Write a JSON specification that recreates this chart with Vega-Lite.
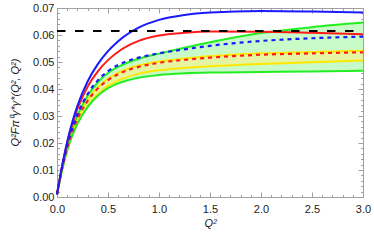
{
  "$schema": "https://vega.github.io/schema/vega-lite/v6.json",
  "autosize": {"type": "none"},
  "width": 306,
  "height": 189,
  "padding": {"left": 57, "top": 8, "right": 11, "bottom": 46},
  "background": "white",
  "config": {
    "view": {"stroke": "#a0a0a0", "strokeWidth": 1},
    "axis": {"labelFont": "Liberation Sans", "labelFontSize": 11, "labelColor": "#222222", "labelFlush": false, "titleFont": "Liberation Sans", "titleFontSize": 11, "titleFontWeight": "normal", "titleColor": "#222222", "tickColor": "#a0a0a0", "domain": false, "grid": false}
  },
  "datasets": {
    "curves": [
      {"q": 0, "blue": 0.001, "red": 0.001, "bdot": 0.001, "rdot": 0.001, "ghi": 0.001, "glo": 0.001, "yhi": 0.001, "ylo": 0.001},
      {"q": 0.05, "blue": 0.0115, "red": 0.0113, "bdot": 0.011, "rdot": 0.0107, "ghi": 0.0109, "glo": 0.010, "yhi": 0.0108, "ylo": 0.010},
      {"q": 0.1, "blue": 0.0205, "red": 0.020, "bdot": 0.0192, "rdot": 0.0184, "ghi": 0.019, "glo": 0.0172, "yhi": 0.0186, "ylo": 0.0173},
      {"q": 0.15, "blue": 0.0278, "red": 0.027, "bdot": 0.0256, "rdot": 0.0243, "ghi": 0.0253, "glo": 0.0228, "yhi": 0.0246, "ylo": 0.0229},
      {"q": 0.2, "blue": 0.0338, "red": 0.0326, "bdot": 0.0306, "rdot": 0.0289, "ghi": 0.0302, "glo": 0.0271, "yhi": 0.0292, "ylo": 0.0273},
      {"q": 0.3, "blue": 0.0428, "red": 0.0408, "bdot": 0.0381, "rdot": 0.0356, "ghi": 0.0375, "glo": 0.0333, "yhi": 0.036, "ylo": 0.0337},
      {"q": 0.4, "blue": 0.0492, "red": 0.0465, "bdot": 0.0432, "rdot": 0.0402, "ghi": 0.0425, "glo": 0.0375, "yhi": 0.0407, "ylo": 0.0381},
      {"q": 0.5, "blue": 0.054, "red": 0.0507, "bdot": 0.0466, "rdot": 0.0433, "ghi": 0.0459, "glo": 0.0403, "yhi": 0.0438, "ylo": 0.0411},
      {"q": 0.6, "blue": 0.0577, "red": 0.0538, "bdot": 0.0489, "rdot": 0.0455, "ghi": 0.0482, "glo": 0.0421, "yhi": 0.046, "ylo": 0.0431},
      {"q": 0.8, "blue": 0.0627, "red": 0.0578, "bdot": 0.0516, "rdot": 0.0482, "ghi": 0.0512, "glo": 0.0442, "yhi": 0.0487, "ylo": 0.0456},
      {"q": 1.0, "blue": 0.0656, "red": 0.0598, "bdot": 0.0532, "rdot": 0.0497, "ghi": 0.0531, "glo": 0.0452, "yhi": 0.0502, "ylo": 0.0469},
      {"q": 1.25, "blue": 0.0674, "red": 0.0608, "bdot": 0.0547, "rdot": 0.0508, "ghi": 0.0553, "glo": 0.0458, "yhi": 0.0513, "ylo": 0.0478},
      {"q": 1.5, "blue": 0.0683, "red": 0.0613, "bdot": 0.056, "rdot": 0.0516, "ghi": 0.0573, "glo": 0.0461, "yhi": 0.0521, "ylo": 0.0484},
      {"q": 2.0, "blue": 0.0689, "red": 0.0612, "bdot": 0.0578, "rdot": 0.0527, "ghi": 0.0607, "glo": 0.0463, "yhi": 0.0532, "ylo": 0.0493},
      {"q": 2.5, "blue": 0.0687, "red": 0.0608, "bdot": 0.0588, "rdot": 0.0532, "ghi": 0.0629, "glo": 0.0465, "yhi": 0.0537, "ylo": 0.0499},
      {"q": 3.0, "blue": 0.0683, "red": 0.0603, "bdot": 0.0594, "rdot": 0.0536, "ghi": 0.0646, "glo": 0.0468, "yhi": 0.0542, "ylo": 0.0506}
    ],
    "ref": [{"q": 0, "v": 0.0615}, {"q": 3, "v": 0.0615}]
  },
  "data": {"name": "curves"},
  "resolve": {"axis": {"x": "independent", "y": "independent"}},
  "layer": [
    {
      "mark": {"type": "area", "color": "#c8fbc8", "interpolate": "monotone"},
      "encoding": {
        "x": {"field": "q", "type": "quantitative", "scale": {"domain": [0, 3], "nice": false},
              "axis": {"orient": "bottom", "values": [0, 0.5, 1, 1.5, 2, 2.5, 3], "format": ".1f", "tickSize": -5, "labelPadding": 11, "title": "Q²", "titleFontStyle": "italic", "titleX": 153, "titleY": 20, "titleBaseline": "top"}},
        "y": {"field": "ghi", "type": "quantitative", "scale": {"domain": [0, 0.07], "nice": false, "zero": false},
              "axis": {"orient": "left", "values": [0, 0.01, 0.02, 0.03, 0.04, 0.05, 0.06, 0.07], "format": ".2f", "tickSize": -5, "labelPadding": 8, "title": "Q²Fπ⁰γ*γ*(Q², Q²)", "titleFontStyle": "italic", "titleX": -37, "titleY": 94, "titleAngle": -90, "titleBaseline": "bottom", "titleAlign": "center"}},
        "y2": {"field": "glo"}
      }
    },
    {
      "mark": {"type": "area", "color": "#e6f5a2", "interpolate": "monotone"},
      "encoding": {
        "x": {"field": "q", "type": "quantitative", "axis": {"orient": "top", "values": [0, 0.5, 1, 1.5, 2, 2.5, 3], "labels": false, "tickSize": -5, "title": null}},
        "y": {"field": "yhi", "type": "quantitative", "axis": {"orient": "right", "values": [0, 0.01, 0.02, 0.03, 0.04, 0.05, 0.06, 0.07], "labels": false, "tickSize": -5, "title": null}},
        "y2": {"field": "ylo"}
      }
    },
    {
      "mark": {"type": "line", "color": "#ffe800", "strokeWidth": 2, "interpolate": "monotone"},
      "encoding": {
        "x": {"field": "q", "type": "quantitative", "axis": {"orient": "bottom", "values": [0.1, 0.2, 0.3, 0.4, 0.6, 0.7, 0.8, 0.9, 1.1, 1.2, 1.3, 1.4, 1.6, 1.7, 1.8, 1.9, 2.1, 2.2, 2.3, 2.4, 2.6, 2.7, 2.8, 2.9], "labels": false, "tickSize": -2.5, "title": null}},
        "y": {"field": "yhi", "type": "quantitative", "axis": {"orient": "left", "values": [0.002, 0.004, 0.006, 0.008, 0.012, 0.014, 0.016, 0.018, 0.022, 0.024, 0.026, 0.028, 0.032, 0.034, 0.036, 0.038, 0.042, 0.044, 0.046, 0.048, 0.052, 0.054, 0.056, 0.058, 0.062, 0.064, 0.066, 0.068], "labels": false, "tickSize": -2.5, "title": null}}
      }
    },
    {
      "mark": {"type": "line", "color": "#ffe800", "strokeWidth": 2, "interpolate": "monotone"},
      "encoding": {
        "x": {"field": "q", "type": "quantitative", "axis": {"orient": "top", "values": [0.1, 0.2, 0.3, 0.4, 0.6, 0.7, 0.8, 0.9, 1.1, 1.2, 1.3, 1.4, 1.6, 1.7, 1.8, 1.9, 2.1, 2.2, 2.3, 2.4, 2.6, 2.7, 2.8, 2.9], "labels": false, "tickSize": -2.5, "title": null}},
        "y": {"field": "ylo", "type": "quantitative", "axis": {"orient": "right", "values": [0.002, 0.004, 0.006, 0.008, 0.012, 0.014, 0.016, 0.018, 0.022, 0.024, 0.026, 0.028, 0.032, 0.034, 0.036, 0.038, 0.042, 0.044, 0.046, 0.048, 0.052, 0.054, 0.056, 0.058, 0.062, 0.064, 0.066, 0.068], "labels": false, "tickSize": -2.5, "title": null}}
      }
    },
    {
      "mark": {"type": "line", "color": "#22ee22", "strokeWidth": 2, "interpolate": "monotone"},
      "encoding": {"x": {"field": "q", "type": "quantitative", "axis": null}, "y": {"field": "ghi", "type": "quantitative", "axis": null}}
    },
    {
      "mark": {"type": "line", "color": "#22ee22", "strokeWidth": 2, "interpolate": "monotone"},
      "encoding": {"x": {"field": "q", "type": "quantitative", "axis": null}, "y": {"field": "glo", "type": "quantitative", "axis": null}}
    },
    {
      "mark": {"type": "line", "color": "#ff1a1a", "strokeWidth": 2, "interpolate": "monotone"},
      "encoding": {"x": {"field": "q", "type": "quantitative", "axis": null}, "y": {"field": "red", "type": "quantitative", "axis": null}}
    },
    {
      "mark": {"type": "line", "color": "#1a1aff", "strokeWidth": 2, "interpolate": "monotone"},
      "encoding": {"x": {"field": "q", "type": "quantitative", "axis": null}, "y": {"field": "blue", "type": "quantitative", "axis": null}}
    },
    {
      "data": {"name": "ref"},
      "mark": {"type": "line", "color": "#000000", "strokeWidth": 2, "strokeDash": [8.5, 9.5]},
      "encoding": {"x": {"field": "q", "type": "quantitative", "axis": null}, "y": {"field": "v", "type": "quantitative", "axis": null}}
    },
    {
      "mark": {"type": "line", "color": "#ff1a1a", "strokeWidth": 2.2, "strokeDash": [4, 4], "interpolate": "monotone"},
      "encoding": {"x": {"field": "q", "type": "quantitative", "axis": null}, "y": {"field": "rdot", "type": "quantitative", "axis": null}}
    },
    {
      "mark": {"type": "line", "color": "#1a1aff", "strokeWidth": 2.2, "strokeDash": [4, 4], "interpolate": "monotone"},
      "encoding": {"x": {"field": "q", "type": "quantitative", "axis": null}, "y": {"field": "bdot", "type": "quantitative", "axis": null}}
    }
  ]
}
